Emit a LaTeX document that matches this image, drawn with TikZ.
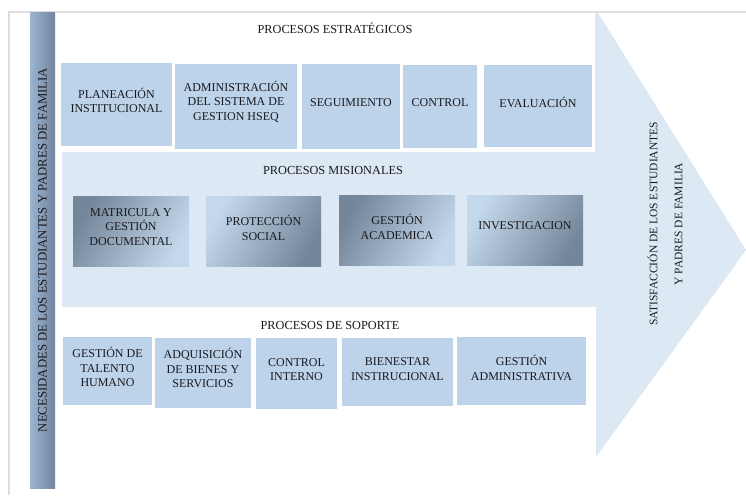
\documentclass[tikz,border=0pt]{standalone}
\usepackage{fontspec}
\setmainfont{Liberation Serif}
\definecolor{framegray}{RGB}{222,222,222}
\definecolor{arrowblue}{RGB}{221,232,245}
\definecolor{boxblue}{RGB}{188,211,234}
\definecolor{misdark}{RGB}{116,134,154}
\definecolor{mislight}{RGB}{196,216,236}
\definecolor{barlight}{RGB}{156,180,208}
\definecolor{bardark}{RGB}{112,132,156}
\definecolor{txtgray}{RGB}{25,25,30}
\tikzset{
  sbox/.style={rectangle, fill=boxblue, draw=none, inner sep=0pt},
  mboxa/.style={rectangle, draw=none, inner sep=0pt, top color=misdark, bottom color=mislight, shading angle=60},
  mboxb/.style={rectangle, draw=none, inner sep=0pt, top color=mislight, bottom color=misdark, shading angle=60},
  btxt/.style={align=center, text=txtgray, font=\fontsize{12}{14.5}\selectfont, inner sep=0pt},
  head/.style={text=txtgray, font=\fontsize{12.3}{14}\selectfont, inner sep=0pt},
}
\begin{document}
\begin{tikzpicture}[x=1pt,y=-1pt]
\useasboundingbox (0,0) rectangle (746,495);
\fill[white] (0,0) rectangle (746,495);
% frame lines
\draw[framegray, line width=1.2pt] (9,495) -- (9,12) -- (746,12);
% big arrow
\fill[arrowblue] (62,13) -- (598,13) -- (746,250) -- (596,457) -- (62,457) -- cycle;
% white bands
\fill[white] (55,13) rectangle (595,152);
\fill[white] (55,307) rectangle (596,488);
% left bar
\shade[left color=barlight, right color=bardark] (30,13) rectangle (55,488);
\node[head, rotate=90, font=\fontsize{12.8}{14}\selectfont] (need) at (42.5,250) {NECESIDADES DE LOS ESTUDIANTES Y PADRES DE FAMILIA};
% right text
\node[head, rotate=90, align=center, font=\fontsize{11.5}{25}\selectfont] (sat) at (665,224) {SATISFACCIÓN DE LOS ESTUDIANTES\\Y PADRES DE FAMILIA};
% headings
\node[head] (hest) at (335,28) {PROCESOS ESTRATÉGICOS};
\node[head] (hmis) at (333,170) {PROCESOS MISIONALES};
\node[head] (hsop) at (330,325) {PROCESOS DE SOPORTE};
% strategic boxes
\node[sbox, minimum width=111pt, minimum height=83pt] (e1) at (116.5,104.5) {};
\node[sbox, minimum width=122pt, minimum height=85pt] (e2) at (236,106.5) {};
\node[sbox, minimum width=98pt, minimum height=85pt] (e3) at (351,106.5) {};
\node[sbox, minimum width=74pt, minimum height=83pt] (e4) at (440,106.5) {};
\node[sbox, minimum width=108pt, minimum height=82pt] (e5) at (538,106) {};
\node[btxt] (te1) at ([yshift=4pt]e1.center) {PLANEACIÓN\\INSTITUCIONAL};
\node[btxt] (te2) at ([yshift=5pt]e2.center) {ADMINISTRACIÓN\\DEL SISTEMA DE\\GESTION HSEQ};
\node[btxt] (te3) at ([yshift=4pt]e3.center) {SEGUIMIENTO};
\node[btxt] (te4) at ([yshift=4pt]e4.center) {CONTROL};
\node[btxt] (te5) at ([yshift=4pt]e5.center) {EVALUACIÓN};
% misional boxes
\node[mboxa, minimum width=116pt, minimum height=70pt] (m1) at (131,231) {};
\node[mboxb, minimum width=115pt, minimum height=70pt] (m2) at (263.5,231) {};
\node[mboxa, minimum width=116pt, minimum height=70pt] (m3) at (397,230) {};
\node[mboxb, minimum width=116pt, minimum height=70pt] (m4) at (525,230) {};
\node[btxt] (tm1) at ([yshift=4pt]m1.center) {MATRICULA Y\\GESTIÓN\\DOCUMENTAL};
\node[btxt] (tm2) at ([yshift=3pt]m2.center) {PROTECCIÓN\\SOCIAL};
\node[btxt] (tm3) at ([yshift=3pt]m3.center) {GESTIÓN\\ACADEMICA};
\node[btxt] (tm4) at ([yshift=4pt]m4.center) {INVESTIGACION};
% support boxes
\node[sbox, minimum width=89pt, minimum height=68pt] (p1) at (107.5,371) {};
\node[sbox, minimum width=96pt, minimum height=70pt] (p2) at (203,373) {};
\node[sbox, minimum width=81pt, minimum height=71pt] (p3) at (296.5,373.5) {};
\node[sbox, minimum width=111pt, minimum height=68pt] (p4) at (397.5,372) {};
\node[sbox, minimum width=129pt, minimum height=68pt] (p5) at (521.5,371) {};
\node[btxt] (tp1) at ([yshift=4pt]p1.center) {GESTIÓN DE\\TALENTO\\HUMANO};
\node[btxt] (tp2) at ([yshift=5pt]p2.center) {ADQUISICIÓN\\DE BIENES Y\\SERVICIOS};
\node[btxt] (tp3) at ([yshift=4pt]p3.center) {CONTROL\\INTERNO};
\node[btxt] (tp4) at ([yshift=3pt]p4.center) {BIENESTAR\\INSTIRUCIONAL};
\node[btxt] (tp5) at ([yshift=3pt]p5.center) {GESTIÓN\\ADMINISTRATIVA};
\end{tikzpicture}
\end{document}
